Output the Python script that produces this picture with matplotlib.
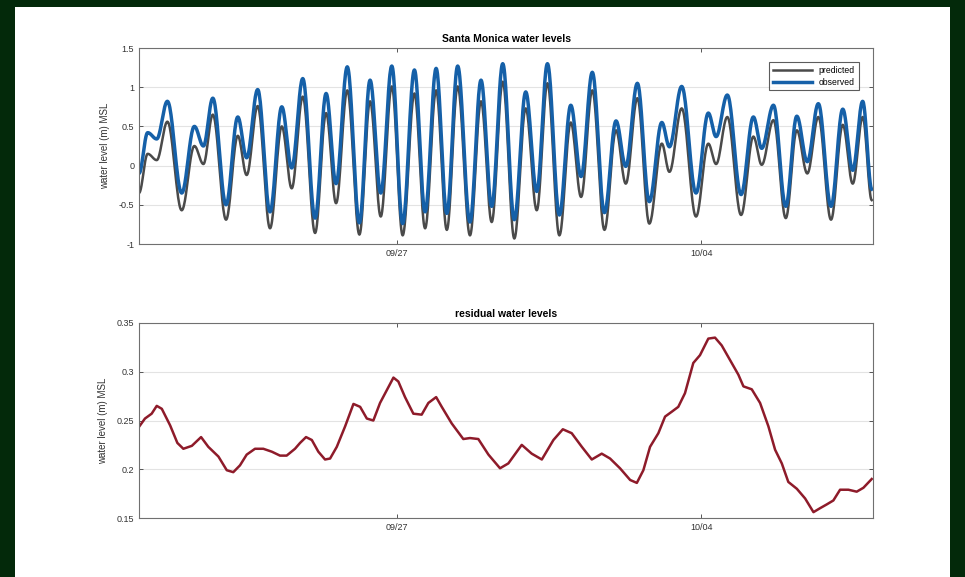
import numpy as np
import matplotlib
matplotlib.use("Agg")
import matplotlib.pyplot as plt
import matplotlib.dates as mdates
from matplotlib.patches import Rectangle

plt.rcParams['font.family'] = ['Liberation Sans Narrow', 'Liberation Sans', 'DejaVu Sans']

# time origin of the record, all times below are hours after it
t0 = np.datetime64('2019-09-21T00:00')

# high / low water turning points (hours, m MSL)
tide_hours = [1.4, 6.2, 11.2, 17.1, 25.0, 32.0, 37.0, 42.2, 49.5, 56.0,
              60.9, 67.0, 73.8, 80.3, 85.8, 91.9, 98.7, 104.8, 110.3, 116.5,
              123.2, 129.1, 135.0, 141.1, 147.1, 153.6, 159.5, 165.6, 171.5, 177.5,
              184.3, 190.4, 196.3, 202.4, 208.8, 215.1, 221.2, 227.1, 233.7, 240.0,
              245.7, 251.9, 258.6, 265.0, 270.4, 276.8, 283.4, 290.3, 294.5, 301.3,
              309.2, 316.0, 320.3, 326.5, 334.1, 340.9, 345.5, 352.0, 358.8, 364.9,
              370.7, 376.8, 383.8, 390.3, 395.8, 401.3, 406.3]
observed = [-0.10, 0.42, 0.34, 0.82, -0.35, 0.50, 0.25, 0.86, -0.50, 0.62,
            0.10, 0.97, -0.59, 0.75, -0.03, 1.11, -0.67, 0.92, -0.23, 1.26,
            -0.73, 1.09, -0.35, 1.27, -0.74, 1.22, -0.59, 1.24, -0.61, 1.27,
            -0.72, 1.09, -0.52, 1.30, -0.69, 0.94, -0.33, 1.30, -0.63, 0.77,
            -0.14, 1.19, -0.60, 0.57, -0.01, 1.05, -0.46, 0.55, 0.24, 1.01,
            -0.35, 0.67, 0.37, 0.90, -0.37, 0.62, 0.22, 0.77, -0.52, 0.63,
            0.05, 0.79, -0.52, 0.72, -0.06, 0.82, -0.30]
predicted = [-0.35, 0.15, 0.07, 0.56, -0.57, 0.25, 0.02, 0.65, -0.69, 0.38,
             -0.12, 0.76, -0.80, 0.50, -0.29, 0.88, -0.86, 0.67, -0.48, 0.96,
             -0.88, 0.82, -0.65, 1.01, -0.89, 0.92, -0.80, 0.96, -0.82, 1.01,
             -0.89, 0.82, -0.72, 1.07, -0.93, 0.73, -0.57, 1.05, -0.89, 0.55,
             -0.40, 0.96, -0.82, 0.45, -0.23, 0.86, -0.74, 0.28, -0.08, 0.73,
             -0.65, 0.28, 0.02, 0.62, -0.63, 0.37, 0.01, 0.58, -0.67, 0.45,
             -0.10, 0.62, -0.69, 0.52, -0.23, 0.62, -0.44]

# residual (observed - predicted)
resid_hours = [1.6, 4.7, 8.4, 11.2, 14.0, 18.6, 22.6, 25.9, 30.6, 35.7,
               39.7, 45.3, 49.9, 53.5, 57.2, 60.9, 65.5, 70.1, 74.8, 79.3,
               83.0, 87.6, 90.4, 93.7, 96.9, 100.5, 104.2, 107.0, 110.7, 115.3,
               119.9, 123.6, 127.3, 130.9, 134.6, 138.3, 142.0, 144.7, 148.4, 153.0,
               157.6, 161.3, 165.6, 168.7, 174.2, 180.6, 184.3, 188.9, 194.5, 200.9,
               205.5, 212.9, 218.4, 224.0, 230.4, 235.6, 240.5, 246.1, 251.6, 257.1,
               261.7, 267.2, 272.8, 276.5, 280.1, 283.8, 288.4, 292.1, 295.8, 299.4,
               303.1, 307.7, 311.4, 316.0, 319.7, 323.4, 328.0, 332.6, 335.4, 340.0,
               344.6, 349.2, 352.9, 356.6, 360.2, 364.9, 369.5, 374.1, 377.7, 381.5,
               385.1, 388.8, 393.4, 398.0, 401.7, 406.3]
residual = [0.244, 0.252, 0.257, 0.265, 0.262, 0.245, 0.227, 0.221, 0.224, 0.233,
            0.223, 0.213, 0.199, 0.197, 0.204, 0.215, 0.221, 0.221, 0.218, 0.214,
            0.214, 0.221, 0.227, 0.233, 0.230, 0.218, 0.210, 0.211, 0.223, 0.244,
            0.267, 0.264, 0.252, 0.250, 0.268, 0.281, 0.294, 0.290, 0.274, 0.257,
            0.256, 0.268, 0.274, 0.264, 0.247, 0.231, 0.232, 0.231, 0.215, 0.201,
            0.206, 0.225, 0.216, 0.210, 0.230, 0.241, 0.237, 0.223, 0.210, 0.216,
            0.211, 0.201, 0.189, 0.186, 0.199, 0.223, 0.237, 0.254, 0.259, 0.264,
            0.278, 0.309, 0.317, 0.334, 0.335, 0.327, 0.312, 0.297, 0.285, 0.282,
            0.268, 0.244, 0.220, 0.206, 0.187, 0.180, 0.170, 0.156, 0.160, 0.164,
            0.168, 0.179, 0.179, 0.177, 0.181, 0.190]

x_ticks = ['2019-09-27', '2019-10-04']
x_start, x_end = 1.4, 407.0


def to_time(hours):
    return t0 + (np.asarray(hours) * 60).astype('timedelta64[m]')


def tide_curve(hours, levels, per_seg=24):
    # smooth cosine-shaped rise/fall between successive turning points
    th, tl = [], []
    for i in range(len(hours) - 1):
        s = np.linspace(0, 1, per_seg, endpoint=False)
        w = (1 - np.cos(np.pi * s)) / 2
        th.append(hours[i] + (hours[i + 1] - hours[i]) * s)
        tl.append(levels[i] + (levels[i + 1] - levels[i]) * w)
    th.append([hours[-1]])
    tl.append([levels[-1]])
    return np.concatenate(th), np.concatenate(tl)


fig = plt.figure(figsize=(9.65, 5.77), dpi=100, facecolor='#03290a')
fig.patches.append(Rectangle((15 / 965, 0), 935 / 965, 570 / 577,
                             transform=fig.transFigure, facecolor='white',
                             edgecolor='none', zorder=-10))

ax1 = fig.add_axes([139 / 965, 333 / 577, 734 / 965, 196 / 577])
ax2 = fig.add_axes([139 / 965, 59 / 577, 734 / 965, 195 / 577])

hp, lp = tide_curve(tide_hours, predicted)
ho, lo = tide_curve(tide_hours, observed)
ax1.plot(to_time(hp), lp, color='#4a4a4a', lw=1.8, label='predicted')
ax1.plot(to_time(ho), lo, color='#1560a8', lw=2.5, label='observed')
ax1.set_ylim(-1, 1.5)
ax1.set_yticks([-1, -0.5, 0, 0.5, 1, 1.5])
ax1.set_yticklabels(['-1', '-0.5', '0', '0.5', '1', '1.5'])
ax1.set_title('Santa Monica water levels', fontsize=7.5, fontweight='bold', pad=4)
leg = ax1.legend(loc='upper right', fontsize=6.2, frameon=True, fancybox=False,
                 handlelength=4.5, borderpad=0.45, labelspacing=0.35,
                 bbox_to_anchor=(0.9865, 0.952))
leg.get_frame().set_edgecolor('#333333')
leg.get_frame().set_linewidth(0.8)

ax2.plot(to_time(resid_hours), residual, color='#8e1b2a', lw=1.8)
ax2.set_ylim(0.15, 0.35)
ax2.set_yticks([0.15, 0.2, 0.25, 0.3, 0.35])
ax2.set_yticklabels(['0.15', '0.2', '0.25', '0.3', '0.35'])
ax2.set_title('residual water levels', fontsize=7.5, fontweight='bold', pad=4)

for ax in (ax1, ax2):
    ax.set_xlim(to_time(x_start), to_time(x_end))
    ax.set_xticks([np.datetime64(d) for d in x_ticks])
    ax.xaxis.set_major_formatter(mdates.DateFormatter('%m/%d'))
    ax.set_ylabel('water level (m) MSL', fontsize=7, color='#333333', labelpad=6)
    ax.grid(axis='y', color='#e3e3e3', lw=0.8)
    ax.set_axisbelow(True)
    ax.tick_params(direction='in', length=3, width=0.7, top=True, right=True,
                   labelsize=6.5, colors='#555555', labelcolor='#333333')
    for sp in ax.spines.values():
        sp.set_color('#707070')
        sp.set_linewidth(0.8)

fig.savefig('out.png', dpi=100, facecolor=fig.get_facecolor())
